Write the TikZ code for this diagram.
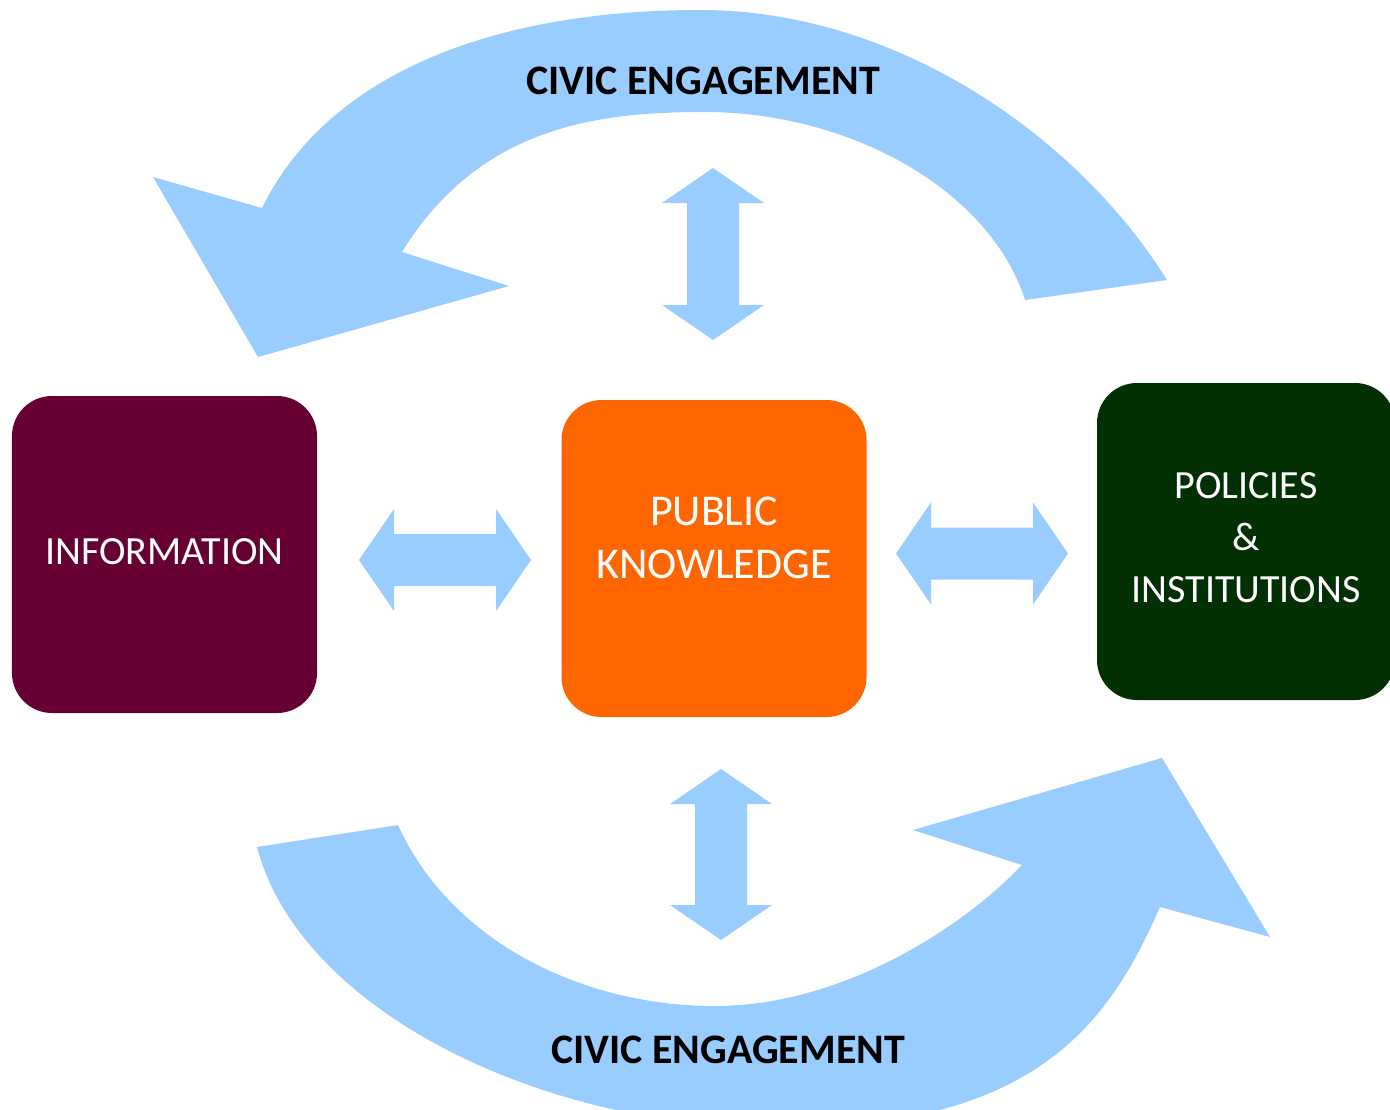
\documentclass[tikz,border=0pt]{standalone}
\usepackage{fontspec}
\setmainfont{Carlito}
\usepackage{xcolor}
\usepackage{tikz}
\usetikzlibrary{positioning,calc}

\definecolor{civicblue}{HTML}{99CCFF}
\definecolor{infored}{HTML}{660033}
\definecolor{knoworange}{HTML}{FF6600}
\definecolor{policygreen}{HTML}{033003}

\begin{document}
\begin{tikzpicture}[x=1bp,y=-1bp,
    box/.style={rounded corners=40bp,minimum width=305bp,minimum height=317bp,inner sep=0pt},
    boxtext/.style={text=white,align=center,inner sep=0pt,font=\fontsize{40bp}{52bp}\selectfont},
    civic/.style={text=black,inner sep=0pt,font=\bfseries\fontsize{42bp}{50bp}\selectfont}]
    \clip (0,0) rectangle (1390,1109);
    \fill[white] (0,0) rectangle (1390,1109);

    % upper band, turning back to the left
    \fill[civicblue] (262,208) .. controls (330,70) and (500,10) .. (700,10)
        .. controls (900,10) and (1080,140) .. (1167,280)
        -- (1025,300) .. controls (990,190) and (850,112) .. (705,112)
        .. controls (600,112) and (480,125) .. (402,252)
        -- (509,286) -- (258,357) -- (153,177) -- cycle;

    % lower band, turning up to the right
    \fill[civicblue] (257,847) .. controls (300,1010) and (540,1128) .. (780,1128)
        .. controls (1040,1128) and (1110,1020) .. (1160,907)
        -- (1270,937) -- (1162,758) -- (913,830) -- (1022,865)
        .. controls (960,930) and (840,1006) .. (715,1006)
        .. controls (580,1006) and (450,940) .. (398,825) -- cycle;

    % double arrows
    \foreach \xa/\xb/\yc in {359/531/560,896/1068/553.5} {
        \fill[civicblue] (\xa,\yc) -- (\xa+35,\yc-51) -- (\xa+35,\yc-26) -- (\xb-35,\yc-26) -- (\xb-35,\yc-51)
            -- (\xb,\yc) -- (\xb-35,\yc+51) -- (\xb-35,\yc+26) -- (\xa+35,\yc+26) -- (\xa+35,\yc+51) -- cycle;
    }
    \foreach \xc/\ya/\yb in {713/168/340,721/769/940} {
        \fill[civicblue] (\xc,\ya) -- (\xc+51,\ya+35) -- (\xc+26,\ya+35) -- (\xc+26,\yb-35) -- (\xc+51,\yb-35)
            -- (\xc,\yb) -- (\xc-51,\yb-35) -- (\xc-26,\yb-35) -- (\xc-26,\ya+35) -- (\xc-51,\ya+35) -- cycle;
    }

    \node[box,fill=infored] (info) at (164.5,554.5) {};
    \node[box,fill=knoworange] (knowledge) at (714,558.5) {};
    \node[box,fill=policygreen,minimum width=298bp] (policies) at (1246,541.5) {};

    \node[boxtext] (infotext) at ([yshift=3bp]info.center) {INFORMATION};
    \node[boxtext,font=\fontsize{44bp}{53bp}\selectfont] (knowtext) at ([yshift=21bp]knowledge.center) {PUBLIC\\KNOWLEDGE};
    \node[boxtext] (policytext) at ([yshift=4bp]policies.center) {POLICIES\\\&\\INSTITUTIONS};

    \node[civic] (civictop) at (703,81) {CIVIC ENGAGEMENT};
    \node[civic] (civicbottom) at (728,1050) {CIVIC ENGAGEMENT};
\end{tikzpicture}
\end{document}
